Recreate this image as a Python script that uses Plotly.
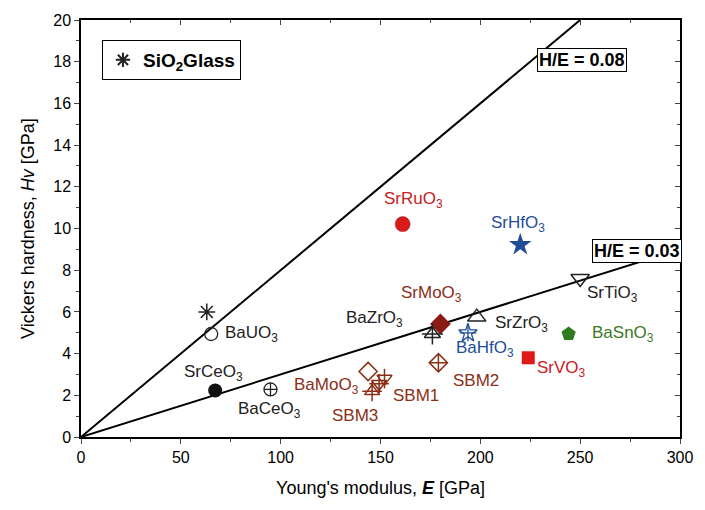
import plotly.graph_objects as go

# ---- data ----
materials = ["BaUO3", "SrCeO3", "BaCeO3", "BaMoO3", "SBM3", "SBM1", "SBM1b", "SrRuO3", "SrHfO3",
             "SrTiO3", "SrMoO3", "SrZrO3", "BaZrO3", "BaHfO3", "BaSnO3", "SrVO3", "SBM2"]
E_vals = [65.2, 67.2, 94.9, 143.8, 145.8, 149.3, 152.0, 161.1, 220.0,
          250.0, 180.0, 198.2, 176.0, 193.8, 244.2, 224.0, 179.0]
Hv_vals = [4.94, 2.23, 2.28, 3.14, 2.19, 2.55, 2.8, 10.21, 9.22,
           7.6, 5.42, 5.75, 4.94, 4.99, 4.94, 3.8, 3.56]
sio2_E = [63.0]
sio2_Hv = [6.0]

label_texts = ["BaUO<sub>3</sub>", "SrCeO<sub>3</sub>", "BaCeO<sub>3</sub>", "BaMoO<sub>3</sub>", "SBM3", "SBM1",
               "SrRuO<sub>3</sub>", "SrHfO<sub>3</sub>", "SrTiO<sub>3</sub>", "SrMoO<sub>3</sub>", "SrZrO<sub>3</sub>",
               "BaZrO<sub>3</sub>", "BaHfO<sub>3</sub>", "BaSnO<sub>3</sub>", "SrVO<sub>3</sub>", "SBM2"]
label_E = [85.5, 66.2, 94.4, 123.0, 137.0, 168.0, 166.6, 219.0, 266.4, 175.5, 220.5, 146.8, 202.2, 271.4, 240.7, 197.7]
label_Hv = [4.94, 3.09, 1.28, 2.47, 1.05, 2.0, 11.35, 10.2, 6.84, 6.84, 5.42, 5.65, 4.23, 4.94, 3.28, 2.71]
label_colors = ["#222222", "#222222", "#222222", "#8a2e16", "#8a2e16", "#8a2e16",
                "#c8201e", "#1f4e96", "#222222", "#8a2e16", "#222222",
                "#222222", "#1f4e96", "#3a7a25", "#c8201e", "#8a2e16"]

ratios = [0.08, 0.03]
ratio_labels = ["H/E = 0.08", "H/E = 0.03"]
ratio_label_E = [251.0, 278.5]
ratio_label_Hv = [18.1, 8.93]

x_ticks = [0, 50, 100, 150, 200, 250, 300]
y_ticks = [0, 2, 4, 6, 8, 10, 12, 14, 16, 18, 20]

FONT = "Liberation Sans, Arial, sans-serif"

fig = go.Figure()

# ratio lines
for r in ratios:
    e_end = min(300.0, 20.0 / r)
    fig.add_trace(go.Scatter(x=[0, e_end], y=[0, r * e_end], mode="lines",
                             line=dict(color="black", width=2), showlegend=False, hoverinfo="skip"))

BR = "#8a2e16"
BK = "#222222"
BL = "#1f4e96"
styles = {
    "BaUO3": [dict(symbol="circle-open", size=13, color=BK, line=dict(width=1.3, color=BK))],
    "SrCeO3": [dict(symbol="circle", size=14, color="#111111", line=dict(width=0))],
    "BaCeO3": [dict(symbol="circle-cross-open", size=13, color=BK, line=dict(width=1.3, color=BK))],
    "BaMoO3": [dict(symbol="diamond-open", size=14, color=BR, line=dict(width=1.5, color=BR))],
    "SBM3": [dict(symbol="triangle-up-open", size=13, color=BR, line=dict(width=1.5, color=BR)),
             dict(symbol="cross-thin-open", size=14, color=BR, line=dict(width=1.5, color=BR))],
    "SBM1": [dict(symbol="triangle-down-open", size=13, color=BR, line=dict(width=1.5, color=BR)),
             dict(symbol="cross-thin-open", size=14, color=BR, line=dict(width=1.5, color=BR))],
    "SBM1b": [dict(symbol="triangle-down-open", size=13, color=BR, line=dict(width=1.5, color=BR)),
              dict(symbol="line-ns-open", size=14, color=BR, line=dict(width=1.5, color=BR))],
    "SrRuO3": [dict(symbol="circle", size=15, color="#d81c1c", line=dict(width=0.5, color="#a01010"))],
    "SrHfO3": [dict(symbol="star", size=17, color=BL, line=dict(width=0))],
    "SrTiO3": [dict(symbol="triangle-down-open", size=16, color=BK, line=dict(width=1.5, color=BK))],
    "SrMoO3": [dict(symbol="diamond", size=16, color="#8b1a14", line=dict(width=0))],
    "SrZrO3": [dict(symbol="triangle-up-open", size=16, color=BK, line=dict(width=1.5, color=BK))],
    "BaZrO3": [dict(symbol="triangle-up-open", size=14, color=BK, line=dict(width=1.5, color=BK)),
               dict(symbol="cross-thin-open", size=15, color=BK, line=dict(width=1.5, color=BK))],
    "BaHfO3": [dict(symbol="star-open", size=14, color=BL, line=dict(width=1.3, color=BL)),
               dict(symbol="cross-thin-open", size=12, color=BL, line=dict(width=1.3, color=BL))],
    "BaSnO3": [dict(symbol="pentagon", size=15, color="#2e7a1e", line=dict(width=0))],
    "SrVO3": [dict(symbol="square", size=13, color="#e01818", line=dict(width=0))],
    "SBM2": [dict(symbol="diamond-open", size=14, color=BR, line=dict(width=1.5, color=BR)),
             dict(symbol="cross-thin-open", size=12, color=BR, line=dict(width=1.5, color=BR))],
}

for name, e, h in zip(materials, E_vals, Hv_vals):
    for st in styles[name]:
        fig.add_trace(go.Scatter(x=[e], y=[h], mode="markers", marker=st,
                                 showlegend=False, hoverinfo="skip"))

# SiO2 glass (legend item)
fig.add_trace(go.Scatter(x=sio2_E, y=sio2_Hv, mode="markers", name="<b>SiO<sub>2</sub>Glass</b>",
                         marker=dict(symbol="asterisk-open", size=14, color=BK,
                                     line=dict(width=1.5, color=BK)),
                         showlegend=True, hoverinfo="skip"))

# labels
for t, e, h, c in zip(label_texts, label_E, label_Hv, label_colors):
    fig.add_annotation(x=e, y=h, text=t, showarrow=False, font=dict(family=FONT, size=17, color=c))

for t, e, h in zip(ratio_labels, ratio_label_E, ratio_label_Hv):
    fig.add_annotation(x=e, y=h, text="<b>" + t + "</b>", showarrow=False,
                       font=dict(family=FONT, size=18, color="black"),
                       bgcolor="white", bordercolor="black", borderwidth=1, borderpad=1)

axis_common = dict(showgrid=False, zeroline=False, showline=True, linecolor="black", linewidth=1.5)

fig.update_layout(
    width=705, height=510,
    margin=dict(l=81, r=17, t=16, b=73),
    paper_bgcolor="white", plot_bgcolor="white",
    font=dict(family=FONT, color="black"),
    showlegend=True,
    legend=dict(x=0.035, y=0.952, xanchor="left", yanchor="top", bgcolor="white",
                bordercolor="black", borderwidth=1, font=dict(family=FONT, size=19, color="black"),
                itemsizing="constant", tracegroupgap=0),
    xaxis=dict(range=[0, 300], tickvals=x_ticks, ticks="outside", ticklen=5, tickwidth=1.3,
               tickfont=dict(size=16), minor=dict(dtick=25, ticks="outside", ticklen=3, tickwidth=1.2),
               title=dict(text="Young's modulus, <b><i>E</i></b> [GPa]", font=dict(size=18), standoff=16),
               **axis_common),
    yaxis=dict(range=[0, 20], tickvals=y_ticks, ticks="outside", ticklen=5, tickwidth=1.3,
               tickfont=dict(size=16), minor=dict(dtick=1, ticks="outside", ticklen=3, tickwidth=1.2),
               title=dict(text="Vickers hardness, <i>Hv</i> [GPa]", font=dict(size=18), standoff=14),
               **axis_common),
    xaxis2=dict(range=[0, 300], overlaying="x", side="top", tickvals=x_ticks, ticks="inside", ticklen=5,
                tickwidth=1.3, showticklabels=False,
                minor=dict(dtick=25, ticks="inside", ticklen=3, tickwidth=1.2), **axis_common),
    yaxis2=dict(range=[0, 20], overlaying="y", side="right", tickvals=y_ticks, ticks="inside", ticklen=5,
                tickwidth=1.3, showticklabels=False,
                minor=dict(dtick=1, ticks="inside", ticklen=3, tickwidth=1.2), **axis_common),
)

# invisible trace to bind secondary axes
fig.add_trace(go.Scatter(x=[0], y=[0], xaxis="x2", yaxis="y2", mode="markers",
                         marker=dict(opacity=0), showlegend=False, hoverinfo="skip"))

fig.write_html("out.html")
